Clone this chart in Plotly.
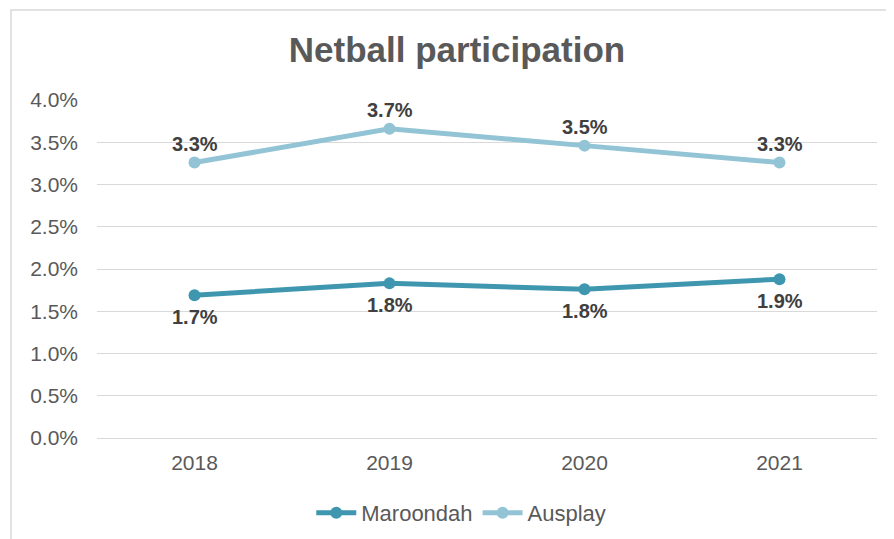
import plotly.graph_objects as go

years = ["2018", "2019", "2020", "2021"]
maroondah = [0.0169, 0.0183, 0.0176, 0.0188]
ausplay = [0.0326, 0.0366, 0.0346, 0.0326]
y_ticks = [0, 0.005, 0.01, 0.015, 0.02, 0.025, 0.03, 0.035, 0.04]

C_MAR = "#3f97af"
C_AUS = "#93c4d5"
FONT = "Liberation Sans, Arial, sans-serif"

fig = go.Figure()
fig.add_trace(go.Scatter(
    x=years, y=maroondah, name="Maroondah", mode="lines+markers",
    line=dict(color=C_MAR, width=5), marker=dict(color=C_MAR, size=12),
))
fig.add_trace(go.Scatter(
    x=years, y=ausplay, name="Ausplay", mode="lines+markers",
    line=dict(color=C_AUS, width=5), marker=dict(color=C_AUS, size=12),
))

annotations = []
for series, shift in ((maroondah, -22), (ausplay, 19)):
    for i, v in enumerate(series):
        annotations.append(dict(
            x=i, y=v, xref="x", yref="y", text=f"{v * 100:.1f}%", showarrow=False,
            yshift=shift, xanchor="center", yanchor="middle",
            font=dict(family=FONT, size=20, color="#404040", weight="bold"),
        ))

# the page body has an 8px margin, so figure coords = screen coords - 8
W, H = 886, 531
L, R, T, B = 89, 17, 92, 101
pw, ph = W - L - R, H - T - B
plot_bottom = H - B

fig.update_layout(
    width=W, height=H,
    margin=dict(l=L, r=R, t=T, b=B, autoexpand=False),
    paper_bgcolor="white", plot_bgcolor="white",
    font=dict(family=FONT, color="#595959", size=21),
    title=dict(text="<b>Netball participation</b>", x=449 / W, xref="container",
               y=1 - 42 / H, yref="container", xanchor="center", yanchor="middle",
               font=dict(family=FONT, size=35, color="#595959")),
    showlegend=True,
    legend=dict(orientation="h", x=0.467, xanchor="center", y=-75 / ph,
                yanchor="middle", font=dict(size=22, color="#595959"),
                itemwidth=40, tracegroupgap=0),
    xaxis=dict(type="category", range=[-0.5, 3.5], showgrid=False, showline=False,
               zeroline=False, ticks="", automargin=False,
               tickfont=dict(size=21, color="#595959"), ticklabelstandoff=10),
    yaxis=dict(range=[0, 0.04], tickvals=y_ticks, tickformat=".1%",
               showgrid=True, gridcolor="#d9d9d9", gridwidth=1,
               zeroline=True, zerolinecolor="#d9d9d9", zerolinewidth=1,
               showline=False, ticks="", ticklabelstandoff=18, automargin=False,
               tickfont=dict(size=21, color="#595959")),
    annotations=annotations,
    shapes=[dict(type="rect", xref="paper", yref="paper",
                 x0=(3 - L) / pw, x1=(W + 10 - L) / pw,
                 y0=(plot_bottom - H - 10) / ph, y1=(plot_bottom - 2) / ph,
                 line=dict(color="#d9d9d9", width=1.5), layer="below")],
)

fig.write_html("out.html")
